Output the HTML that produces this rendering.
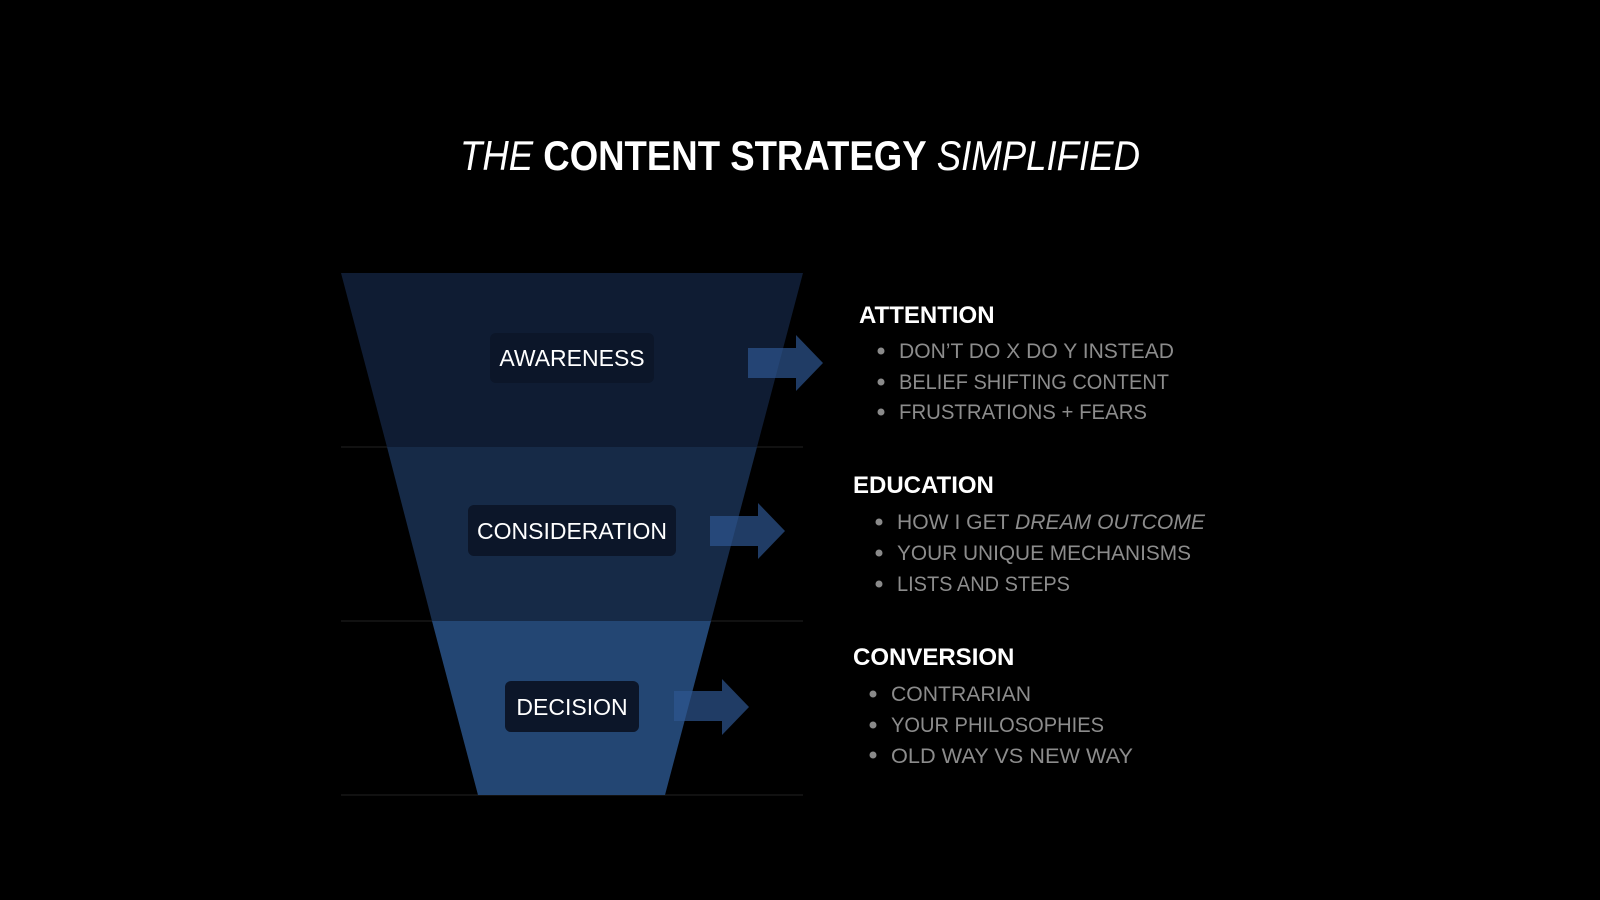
<!DOCTYPE html>
<html><head><meta charset="utf-8"><style>
html,body{margin:0;padding:0;background:#000;width:1600px;height:900px;overflow:hidden}
svg{display:block}
text{font-family:"Liberation Sans",sans-serif}
</style></head><body>
<svg width="1600" height="900" viewBox="0 0 1600 900">
<rect width="1600" height="900" fill="#000"/>
<text x="800" y="170" text-anchor="middle" font-size="42" fill="#fff" textLength="680" lengthAdjust="spacingAndGlyphs"><tspan font-style="italic">THE </tspan><tspan font-weight="bold">CONTENT STRATEGY</tspan><tspan font-style="italic"> SIMPLIFIED</tspan></text>
<line x1="341" y1="447" x2="803" y2="447" stroke="#222" stroke-width="1"/>
<line x1="341" y1="621" x2="803" y2="621" stroke="#222" stroke-width="1"/>
<line x1="341" y1="795" x2="803" y2="795" stroke="#222" stroke-width="1"/>
<polygon points="341,273 803,273 757,447 387,447" fill="#0f1c33"/>
<polygon points="387,447 757,447 711,621 432,621" fill="#162a47"/>
<polygon points="432,621 711,621 665,795 478,795" fill="#234673"/>
<g fill="#2d5590" opacity="0.7">
<polygon points="748,348 796,348 796,335 823,363 796,391 796,378 748,378"/>
<polygon points="710,516 758,516 758,503 785,531 758,559 758,546 710,546"/>
<polygon points="674,691 722,691 722,679 749,707 722,735 722,721 674,721"/>
</g>
<rect x="490" y="333" width="164" height="50" rx="6" fill="#0c1629"/>
<text x="572" y="366" text-anchor="middle" font-size="23" fill="#fff">AWARENESS</text>
<rect x="468" y="505" width="208" height="51" rx="6" fill="#0c1629"/>
<text x="572" y="539" text-anchor="middle" font-size="23" fill="#fff">CONSIDERATION</text>
<rect x="505" y="681" width="134" height="51" rx="6" fill="#0c1629"/>
<text x="572" y="715" text-anchor="middle" font-size="23" fill="#fff">DECISION</text>
<g font-size="24" font-weight="bold" fill="#fff">
<text x="859" y="323">ATTENTION</text>
<text x="853" y="493">EDUCATION</text>
<text x="853" y="665">CONVERSION</text>
</g>
<g fill="#8a8a8a">
<circle cx="881" cy="351" r="3.5"/><circle cx="881" cy="382" r="3.5"/><circle cx="881" cy="412" r="3.5"/>
<circle cx="879" cy="522" r="3.5"/><circle cx="879" cy="553" r="3.5"/><circle cx="879" cy="584" r="3.5"/>
<circle cx="873" cy="694" r="3.5"/><circle cx="873" cy="725" r="3.5"/><circle cx="873" cy="755" r="3.5"/>
</g>
<g font-size="21" fill="#8c8c8c">
<text x="899" y="358" textLength="275" lengthAdjust="spacingAndGlyphs">DON’T DO X DO Y INSTEAD</text>
<text x="899" y="389" textLength="270" lengthAdjust="spacingAndGlyphs">BELIEF SHIFTING CONTENT</text>
<text x="899" y="419" textLength="248" lengthAdjust="spacingAndGlyphs">FRUSTRATIONS + FEARS</text>
<text x="897" y="529" textLength="308" lengthAdjust="spacingAndGlyphs">HOW I GET <tspan font-style="italic">DREAM OUTCOME</tspan></text>
<text x="897" y="560" textLength="294" lengthAdjust="spacingAndGlyphs">YOUR UNIQUE MECHANISMS</text>
<text x="897" y="591" textLength="173" lengthAdjust="spacingAndGlyphs">LISTS AND STEPS</text>
<text x="891" y="701" textLength="140" lengthAdjust="spacingAndGlyphs">CONTRARIAN</text>
<text x="891" y="732" textLength="213" lengthAdjust="spacingAndGlyphs">YOUR PHILOSOPHIES</text>
<text x="891" y="763" textLength="242" lengthAdjust="spacingAndGlyphs">OLD WAY VS NEW WAY</text>
</g>
</svg>
</body></html>
